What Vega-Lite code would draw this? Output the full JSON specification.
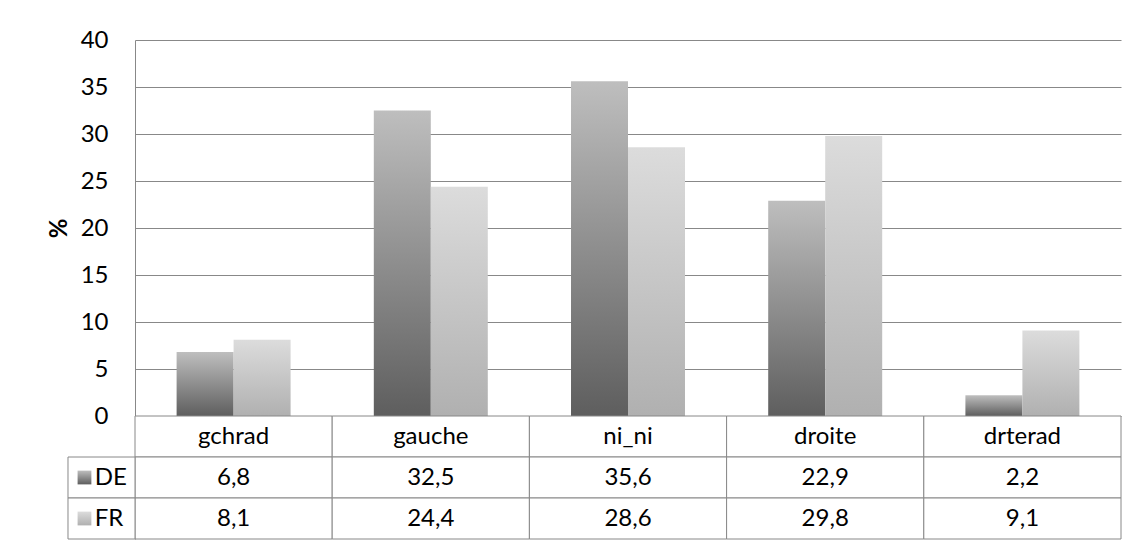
{
  "$schema": "https://vega.github.io/schema/vega-lite/v6.json",
  "autosize": {"type": "none"},
  "padding": {"left": 135, "top": 40, "right": 18, "bottom": 7},
  "width": 986,
  "height": 499,
  "background": "white",
  "config": {
    "font": "Lato",
    "view": {"stroke": null},
    "locale": {"number": {"decimal": ",", "thousands": ".", "grouping": [3], "currency": ["", " €"]}}
  },
  "datasets": {
    "votes": [
      {"cat": "gchrad", "series": "DE", "value": 6.8},
      {"cat": "gchrad", "series": "FR", "value": 8.1},
      {"cat": "gauche", "series": "DE", "value": 32.5},
      {"cat": "gauche", "series": "FR", "value": 24.4},
      {"cat": "ni_ni", "series": "DE", "value": 35.6},
      {"cat": "ni_ni", "series": "FR", "value": 28.6},
      {"cat": "droite", "series": "DE", "value": 22.9},
      {"cat": "droite", "series": "FR", "value": 29.8},
      {"cat": "drterad", "series": "DE", "value": 2.2},
      {"cat": "drterad", "series": "FR", "value": 9.1}
    ]
  },
  "data": {"name": "votes"},
  "resolve": {"scale": {"x": "independent", "y": "independent"}, "axis": {"y": "independent"}},
  "layer": [
    {
      "encoding": {
        "x": {"field": "cat", "type": "nominal", "sort": null,
              "scale": {"domain": ["gchrad", "gauche", "ni_ni", "droite", "drterad"], "paddingInner": 0, "paddingOuter": 0},
              "axis": null},
        "xOffset": {"field": "series", "type": "nominal",
              "scale": {"domain": ["DE", "FR"], "paddingInner": 0, "paddingOuter": 0.73}},
        "y": {"field": "value", "type": "quantitative",
              "scale": {"domain": [-13.085, 40], "nice": false, "zero": false},
              "axis": {
                "values": [0, 5, 10, 15, 20, 25, 30, 35, 40],
                "grid": true, "gridColor": "#888888", "gridWidth": 1,
                "domain": true, "domainColor": "#888888", "domainWidth": 1,
                "ticks": false, "tickSize": 0,
                "labelPadding": 27, "labelFontSize": 24, "labelColor": "#000000", "labelFont": "Lato",
                "title": "%", "titleFontSize": 24, "titleFontWeight": "bold", "titleColor": "#000000", "titleFont": "Lato",
                "titleAngle": -90, "titleX": -76, "titleY": 188, "titleAlign": "center", "titleBaseline": "middle"
              }}
      },
      "layer": [
        {
          "transform": [{"filter": "datum.series === 'DE'"}],
          "mark": {"type": "bar", "color": {"gradient": "linear", "x1": 0, "y1": 1, "x2": 0, "y2": 0,
            "stops": [{"offset": 0, "color": "#5e5e5e"}, {"offset": 1, "color": "#bebebe"}]}}
        },
        {
          "transform": [{"filter": "datum.series === 'FR'"}],
          "mark": {"type": "bar", "color": {"gradient": "linear", "x1": 0, "y1": 1, "x2": 0, "y2": 0,
            "stops": [{"offset": 0, "color": "#b0b0b0"}, {"offset": 1, "color": "#dcdcdc"}]}}
        }
      ]
    },
    {
      "layer": [
        {
          "transform": [{"filter": "datum.series === 'DE'"}],
          "mark": {"type": "rect", "fill": "white", "stroke": "#888888", "strokeWidth": 1},
          "encoding": {
            "x": {"field": "cat", "type": "nominal", "sort": null,
                  "scale": {"domain": ["gchrad", "gauche", "ni_ni", "droite", "drterad"], "paddingInner": 0, "paddingOuter": 0}, "axis": null},
            "y": {"datum": "header", "type": "nominal",
                  "scale": {"domain": ["header", "DE", "FR"], "paddingInner": 0, "paddingOuter": 0, "range": [376, 499]}, "axis": null}
          }
        },
        {
          "transform": [{"filter": "datum.series === 'DE'"}],
          "mark": {"type": "text", "fontSize": 24, "color": "#000000", "baseline": "middle", "align": "center"},
          "encoding": {
            "x": {"field": "cat", "type": "nominal", "sort": null},
            "y": {"datum": "header", "type": "nominal"},
            "text": {"field": "cat", "type": "nominal"}
          }
        },
        {
          "mark": {"type": "rect", "fill": "white", "stroke": "#888888", "strokeWidth": 1},
          "encoding": {
            "x": {"field": "cat", "type": "nominal", "sort": null},
            "y": {"field": "series", "type": "nominal"}
          }
        },
        {
          "mark": {"type": "text", "fontSize": 24, "color": "#000000", "baseline": "middle", "align": "center"},
          "encoding": {
            "x": {"field": "cat", "type": "nominal", "sort": null},
            "y": {"field": "series", "type": "nominal"},
            "text": {"field": "value", "type": "quantitative", "format": ".1f"}
          }
        }
      ]
    },
    {
      "transform": [{"filter": "datum.cat === 'gchrad'"}],
      "encoding": {
        "y": {"field": "series", "type": "nominal",
              "scale": {"domain": ["header", "DE", "FR"], "paddingInner": 0, "paddingOuter": 0, "range": [376, 499]}, "axis": null}
      },
      "layer": [
        {
          "mark": {"type": "rect", "fill": "white", "stroke": "#888888", "strokeWidth": 1},
          "encoding": {
            "x": {"datum": -1, "type": "quantitative", "scale": {"domain": [0, 14.7164], "nice": false, "zero": false}, "axis": null},
            "x2": {"datum": 0}
          }
        },
        {
          "transform": [{"filter": "datum.series === 'DE'"}],
          "mark": {"type": "point", "shape": "square", "size": 190, "filled": true, "strokeWidth": 0, "opacity": 1,
            "color": {"gradient": "linear", "x1": 0, "y1": 1, "x2": 0, "y2": 0,
              "stops": [{"offset": 0, "color": "#5e5e5e"}, {"offset": 1, "color": "#bebebe"}]}},
          "encoding": {"x": {"datum": -0.754, "type": "quantitative"}}
        },
        {
          "transform": [{"filter": "datum.series === 'FR'"}],
          "mark": {"type": "point", "shape": "square", "size": 190, "filled": true, "strokeWidth": 0, "opacity": 1,
            "color": {"gradient": "linear", "x1": 0, "y1": 1, "x2": 0, "y2": 0,
              "stops": [{"offset": 0, "color": "#b0b0b0"}, {"offset": 1, "color": "#dcdcdc"}]}},
          "encoding": {"x": {"datum": -0.754, "type": "quantitative"}}
        },
        {
          "mark": {"type": "text", "fontSize": 24, "color": "#000000", "baseline": "middle", "align": "left"},
          "encoding": {
            "x": {"datum": -0.6, "type": "quantitative"},
            "text": {"field": "series", "type": "nominal"}
          }
        }
      ]
    }
  ]
}
